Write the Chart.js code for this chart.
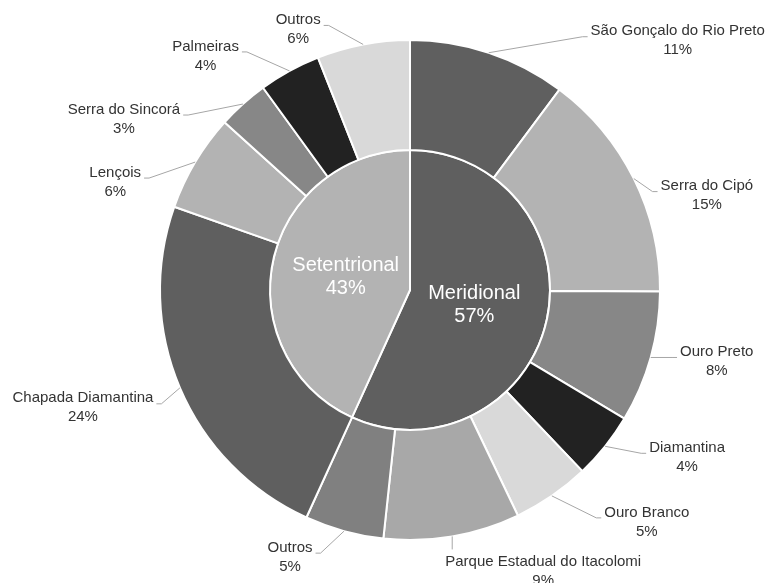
<!DOCTYPE html>
<html>
<head>
<meta charset="utf-8">
<script src="https://cdn.jsdelivr.net/npm/chart.js@4"></script>
<style>
  html, body { margin: 0; padding: 0; background: #fff; }
  #wrap { width: 769px; height: 583px; }
</style>
</head>
<body>
<div id="wrap"><canvas id="chart" width="769" height="583"></canvas></div>
<script>
const regionLabels = ['Meridional', 'Setentrional'];
const regionValues = [56.8, 43.2];
const regionPercent = [57, 43];

// Localities (outer ring)
const placeLabels = [
    'São Gonçalo do Rio Preto', 'Serra do Cipó', 'Ouro Preto', 'Diamantina',
    'Ouro Branco', 'Parque Estadual do Itacolomi', 'Outros',
    'Chapada Diamantina', 'Lençois', 'Serra do Sincorá', 'Palmeiras', 'Outros'
];
const placeValues = [10.2, 14.9, 8.5, 4.3, 5.0, 8.8, 5.1, 23.6, 6.3, 3.3, 4.0, 6.0];
const placePercent = [11, 15, 8, 4, 5, 9, 5, 24, 6, 3, 4, 6];

// Styling
const regionColors = ['#5f5f5f', '#b3b3b3'];
const placeColors = [
    '#5f5f5f', '#b3b3b3', '#878787', '#222222', '#d9d9d9', '#a8a8a8', '#808080',
    '#5f5f5f', '#b3b3b3', '#878787', '#222222', '#d9d9d9'
];

// Offset of each outer label (box centre) from the slice's outer midpoint
const labelShift = [
    [189, -12], [73, 17], [66, 4], [82, 11], [95, 26], [91, 35], [-54, 26],
    [-97, 20], [-80, 20], [-119, 15], [-84, -15], [-65, -15]
];

const FONT = '"Liberation Sans", Arial, sans-serif';

// Draws outer labels with leader lines, and the inner labels
const labelPlugin = {
    id: 'ringLabels',
    afterDatasetsDraw(chart) {
        const ctx = chart.ctx;
        ctx.save();
        ctx.textAlign = 'center';
        ctx.textBaseline = 'middle';

        // Outer ring
        const outer = chart.getDatasetMeta(0).data;
        ctx.font = '15px ' + FONT;
        outer.forEach((arc, i) => {
            const p = arc.getProps(['x', 'y', 'startAngle', 'endAngle', 'outerRadius']);
            const mid = (p.startAngle + p.endAngle) / 2;
            const ax = p.x + p.outerRadius * Math.cos(mid);
            const ay = p.y + p.outerRadius * Math.sin(mid);
            const cx = ax + labelShift[i][0];
            const cy = ay + labelShift[i][1];
            const line1 = placeLabels[i];
            const line2 = placePercent[i] + '%';
            const w = Math.max(ctx.measureText(line1).width, ctx.measureText(line2).width);
            const left = cx - w / 2, right = cx + w / 2, top = cy - 18;

            // leader line
            ctx.strokeStyle = '#a6a6a6';
            ctx.lineWidth = 1;
            ctx.beginPath();
            ctx.moveTo(ax, ay);
            if (ax >= left && ax <= right) {
                ctx.lineTo(ax, top - 4);
            } else if (ax < left) {
                const ly = cy - 4;
                ctx.lineTo(left - 8, ly);
                ctx.lineTo(left - 3, ly);
            } else {
                const ly = cy - 4;
                ctx.lineTo(right + 8, ly);
                ctx.lineTo(right + 3, ly);
            }
            ctx.stroke();

            ctx.fillStyle = '#333333';
            ctx.fillText(line1, cx, cy - 9.5);
            ctx.fillText(line2, cx, cy + 9.5);
        });

        // Inner ring
        const inner = chart.getDatasetMeta(1).data;
        ctx.font = '20px ' + FONT;
        ctx.fillStyle = '#ffffff';
        inner.forEach((arc, i) => {
            const p = arc.getProps(['x', 'y', 'startAngle', 'endAngle', 'outerRadius']);
            const mid = (p.startAngle + p.endAngle) / 2;
            const r = p.outerRadius * 0.47;
            const cx = p.x + r * Math.cos(mid);
            const cy = p.y + r * Math.sin(mid) + 1;
            ctx.fillText(regionLabels[i], cx, cy - 11.5);
            ctx.fillText(regionPercent[i] + '%', cx, cy + 11.5);
        });
        ctx.restore();
    }
};

new Chart(document.getElementById('chart').getContext('2d'), {
    type: 'doughnut',
    data: {
        labels: placeLabels,
        datasets: [
            {
                data: placeValues,
                backgroundColor: placeColors,
                borderColor: '#ffffff',
                borderWidth: 2,
                weight: 110
            },
            {
                data: regionValues,
                backgroundColor: regionColors,
                borderColor: '#ffffff',
                borderWidth: 2,
                weight: 140
            }
        ]
    },
    options: {
        responsive: false,
        animation: false,
        cutout: 0,
        radius: 250,
        layout: {
            padding: { left: 160, right: 109, top: 40, bottom: 43 }
        },
        plugins: {
            legend: { display: false },
            tooltip: { enabled: false }
        }
    },
    plugins: [labelPlugin]
});
</script>
</body>
</html>
